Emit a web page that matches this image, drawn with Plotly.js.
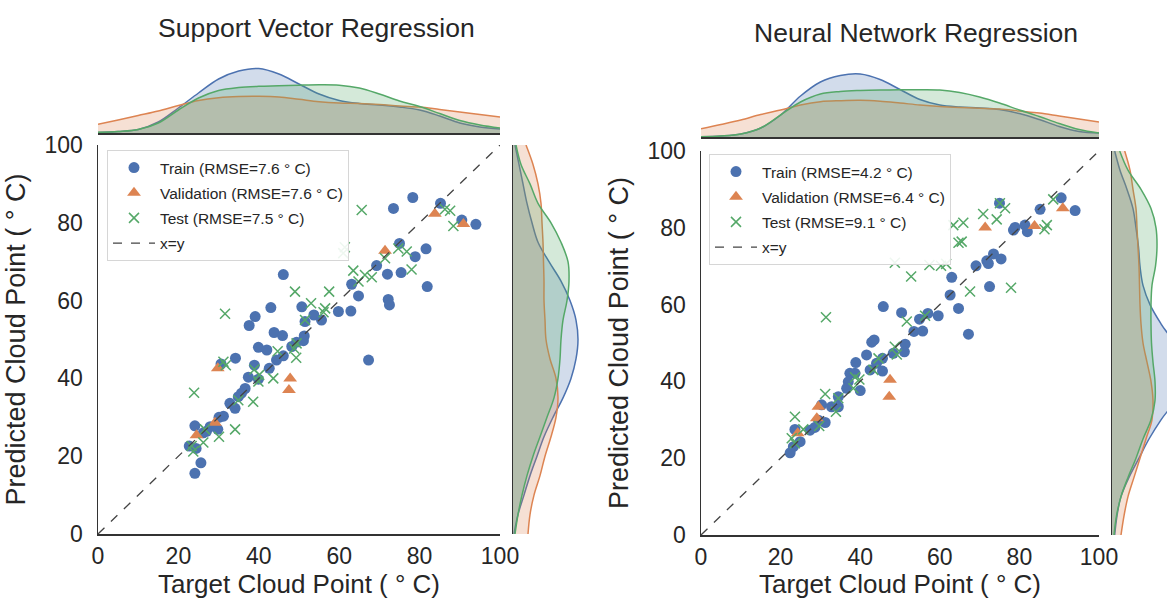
<!DOCTYPE html>
<html>
<head>
<meta charset="utf-8">
<script src="https://cdn.plot.ly/plotly-3.0.1.min.js"></script>
<style>html,body{margin:0;padding:0;background:#fff;}#chart{width:1167px;height:599px;}</style>
</head>
<body>
<div id="chart"></div>
<script>
// ---------------- DATA ----------------
// Support Vector Regression: target (x) vs predicted (y)
const svrTrainX = [78.3,73.5,85.2,90.5,94.0,75.0,81.6,78.9,69.3,72.0,75.4,81.9,63.1,64.8,46.1,72.2,72.5,50.7,43.0,39.1,37.6,59.8,62.9,53.7,55.6,51.5,43.8,45.9,51.3,51.1,48.2,49.4,39.9,42.0,46.1,44.4,34.2,30.6,38.9,42.6,67.3,37.4,39.9,36.6,35.7,34.9,32.8,34.1,31.2,30.1,24.1,27.9,29.8,26.2,22.7,24.4,25.6,24.1,27.0];
const svrTrainY = [86.5,83.7,85.0,80.7,79.6,74.7,73.3,71.3,69.0,66.8,67.2,63.6,64.2,61.2,66.7,60.3,58.9,58.4,58.2,55.9,53.6,57.2,57.3,56.3,55.0,54.6,51.8,51.0,50.9,49.7,48.2,49.3,48.0,47.3,45.8,44.7,45.2,43.7,43.4,42.6,44.7,40.3,39.8,37.4,36.2,35.3,33.6,32.3,30.3,30.0,27.8,27.6,26.9,26.0,22.6,22.0,18.3,15.6,26.4];
const svrValX = [83.8,90.9,71.4,29.8,47.8,47.5,29.1,24.5];
const svrValY = [82.3,79.7,72.8,42.6,40.0,37.0,28.6,25.4];
const svrTestX = [65.6,86.3,87.6,88.4,61.4,61.0,74.7,76.8,71.4,63.5,78.0,66.4,68.1,64.8,49.0,57.5,53.0,56.5,56.1,51.5,31.6,44.7,49.4,48.8,49.3,31.2,31.8,38.9,40.1,39.9,43.6,34.9,38.6,23.9,34.1,30.1,26.6,26.2,23.3,23.7];
const svrTestY = [83.3,83.5,83.1,79.2,73.7,72.2,73.4,72.6,70.9,67.7,68.0,66.6,66.0,64.9,62.3,62.3,59.3,58.0,57.0,55.0,56.6,47.0,49.0,47.7,45.3,44.3,43.4,42.3,40.9,39.2,40.0,34.4,34.0,36.3,26.9,25.0,26.9,23.5,22.6,21.2];

// Neural Network Regression: target (x) vs predicted (y)
const nnTrainX = [90.5,94.0,85.2,75.0,78.5,78.9,81.4,82.0,73.5,71.8,72.2,75.4,69.1,63.0,62.6,72.5,64.7,67.2,59.6,57.0,54.9,50.4,45.8,53.5,55.7,51.3,51.1,48.3,43.5,42.9,41.6,45.6,44.1,42.5,45.6,38.9,37.4,38.7,37.0,40.0,36.6,34.5,32.8,34.5,30.3,31.2,29.5,28.6,23.6,24.9,23.2,22.4,27.4];
const nnTrainY = [87.8,84.5,84.8,86.4,79.4,80.1,80.7,79.0,73.2,71.4,70.7,71.9,70.1,67.1,62.5,64.7,59.0,52.3,57.1,57.7,56.2,57.9,59.5,53.0,53.1,49.7,47.7,47.3,50.8,50.2,46.9,46.0,44.7,43.0,42.7,44.9,42.1,42.1,39.9,37.6,38.2,36.0,33.4,33.4,33.9,29.3,29.9,28.0,27.5,24.3,23.0,21.4,27.3];
const nnValX = [90.9,83.8,71.4,47.5,47.3,29.5,29.1,24.3];
const nnValY = [85.1,80.5,80.1,40.4,36.0,33.4,30.4,26.5];
const nnTestX = [88.5,75.1,76.4,70.9,74.3,65.9,63.4,65.5,64.7,86.9,86.3,48.7,57.4,60.3,61.6,52.8,67.6,77.9,31.4,51.7,56.3,48.7,49.2,44.6,43.3,39.8,38.7,38.3,34.5,31.2,33.9,29.7,23.6,25.7,22.8,23.6];
const nnTestY = [87.4,86.4,85.1,83.6,82.2,81.3,80.7,76.4,76.1,80.7,79.6,70.9,70.3,70.1,70.6,67.3,63.4,64.4,56.7,55.6,57.1,49.0,47.0,46.0,43.0,40.5,41.1,38.2,35.6,36.7,32.1,28.4,30.8,27.5,25.2,23.9];

const diagX = [0, 100];
const diagY = [0, 100];

// Marginal KDE curves (relative density), evaluated on grid 0..100
const kdeGrid = [0,5,10,15,20,25,30,35,40,45,50,55,60,65,70,75,80,85,90,95,100];
// SVR – target distribution (top)
const svrTopTrain = [0.5,1.5,3.5,11,25,40,54,62,64.5,59,49,39,32.5,29.5,28,26,23,17,10,6,4];
const svrTopVal   = [8.7,13,17.5,22,27.5,32.5,35.3,36.5,36.7,36,33.7,31.3,30,29.5,28.5,27,26,23.5,21,18.5,16];
const svrTopTest  = [0.7,1.5,3.5,10,23,35,42.5,45.5,46.7,47.2,47.8,48.2,47.8,45,39,32,26.5,19.5,12.5,8,5];
// SVR – predicted distribution (right)
const svrRightTrain = [1,5,11,17,24,31,40,50,58,63,65,63,57,48,36,25,19,14,10,6,2];
const svrRightVal   = [15,17,21,27,32,38,43,45,43,37,33,32,31,31,30.5,30,29,28,25,20,13];
const svrRightTest  = [2,5,9,14,20,27,34,41,45,47,48,50,54,56,55,48,38,25,17,8,3];
// NN – target distribution (top)
const nnTopTrain = [0.3,1,3,9,22,41,55,61.5,63,57.5,47.5,37.5,32,30,29,27.5,23.5,17.5,10.5,5.5,4];
const nnTopVal   = [8.3,12.5,17,22.5,27,32,35.3,36.3,36.7,35.8,34,32,30.5,29.5,28.8,28,26,24,21,18,15];
const nnTopTest  = [0.3,1,3,9,22,35,43,45.5,46.5,47,47.2,47.3,47,44.5,40,34,27,20.5,13.5,7.5,4];
// NN – predicted distribution (right)
const nnRightTrain = [2.7,5,9,17,27,37,49,63,70,69,62,49,38,31,28,26.5,24,21,15,8,2.7];
const nnRightVal   = [9,12,16,22,28,34,40,41,39,35,31,29,28,27.5,27,26,25,24,21,18,12.7];
const nnRightTest  = [2,4.5,9,16,24,31,39,43,43,41,39.5,39,39,40,43.5,45,44,39,29,16,7.7];

const legendSVR = ['Train (RMSE=7.6 ° C)', 'Validation (RMSE=7.6 ° C)', 'Test (RMSE=7.5 ° C)', 'x=y'];
const legendNN  = ['Train (RMSE=4.2 ° C)', 'Validation (RMSE=6.4 ° C)', 'Test (RMSE=9.1 ° C)', 'x=y'];

// ---------------- STYLE ----------------
const W = 1167, H = 599;
const C_BLUE = '#4C72B0', C_ORANGE = '#DD8452', C_GREEN = '#55A868';
const FILL = {[C_BLUE]: 'rgba(76,114,176,0.25)', [C_ORANGE]: 'rgba(221,132,82,0.25)', [C_GREEN]: 'rgba(85,168,104,0.25)'};
const FONT = 'Liberation Sans, Arial, Helvetica, sans-serif';
const TXT = '#262626';
const px = v => v / W;
const py = v => 1 - v / H;

function scatterSet(xa, ya, lg, names, tr, trY, va, vaY, te, teY) {
  return [
    {type:'scatter', mode:'markers', x:tr, y:trY, xaxis:xa, yaxis:ya, legend:lg, legendgroup:lg+'a', name:names[0],
     marker:{symbol:'circle', size:11, color:C_BLUE}},
    {type:'scatter', mode:'markers', x:va, y:vaY, xaxis:xa, yaxis:ya, legend:lg, legendgroup:lg+'b', name:names[1],
     marker:{symbol:'triangle-up', size:12, color:C_ORANGE}},
    {type:'scatter', mode:'markers', x:te, y:teY, xaxis:xa, yaxis:ya, legend:lg, legendgroup:lg+'c', name:names[2],
     marker:{symbol:'x-thin-open', size:10, color:C_GREEN, line:{color:C_GREEN, width:1.5}}},
    {type:'scatter', mode:'lines', x:diagX, y:diagY, xaxis:xa, yaxis:ya, legend:lg, legendgroup:lg+'d', name:names[3],
     line:{color:'#444', width:1.3, dash:'dash'}}
  ];
}
function kdeTop(xa, ya, vals, color) {
  return {type:'scatter', mode:'lines', x:kdeGrid, y:vals, xaxis:xa, yaxis:ya, showlegend:false,
    fill:'tozeroy', fillcolor:FILL[color], line:{color:color, width:1.5, shape:'spline'}, hoverinfo:'skip'};
}
function kdeRight(xa, ya, vals, color) {
  return {type:'scatter', mode:'lines', x:vals, y:kdeGrid, xaxis:xa, yaxis:ya, showlegend:false,
    fill:'tozerox', fillcolor:FILL[color], line:{color:color, width:1.5, shape:'spline'}, hoverinfo:'skip'};
}

const data = [
  kdeTop('x2','y2', svrTopTrain, C_BLUE), kdeTop('x2','y2', svrTopVal, C_ORANGE), kdeTop('x2','y2', svrTopTest, C_GREEN),
  kdeRight('x3','y3', svrRightTrain, C_BLUE), kdeRight('x3','y3', svrRightVal, C_ORANGE), kdeRight('x3','y3', svrRightTest, C_GREEN),
  kdeTop('x5','y5', nnTopTrain, C_BLUE), kdeTop('x5','y5', nnTopVal, C_ORANGE), kdeTop('x5','y5', nnTopTest, C_GREEN),
  kdeRight('x6','y6', nnRightTrain, C_BLUE), kdeRight('x6','y6', nnRightVal, C_ORANGE), kdeRight('x6','y6', nnRightTest, C_GREEN),
  ...scatterSet('x','y','legend', legendSVR, svrTrainX, svrTrainY, svrValX, svrValY, svrTestX, svrTestY),
  ...scatterSet('x4','y4','legend2', legendNN, nnTrainX, nnTrainY, nnValX, nnValY, nnTestX, nnTestY)
];

const tickVals = [0,20,40,60,80,100];
function mainX(domain, anchor) {
  return {domain, anchor, range:[0,100], tickvals:tickVals, showgrid:false, zeroline:false, ticks:'',
    showline:true, linecolor:'#333', linewidth:1.5, tickfont:{size:23, color:TXT, family:FONT},
    ticklabelstandoff:1, automargin:false,
    title:{text:'Target Cloud Point ( ° C)', font:{size:26, color:TXT, family:FONT}, standoff:11}};
}
function mainY(domain, anchor) {
  return {domain, anchor, range:[0,100], tickvals:tickVals, showgrid:false, zeroline:false, ticks:'',
    showline:true, linecolor:'#333', linewidth:1.5, tickfont:{size:23, color:TXT, family:FONT},
    ticklabelstandoff:9, automargin:false,
    title:{text:'Predicted Cloud Point ( ° C)', font:{size:27, color:TXT, family:FONT}, standoff:11}};
}
const hidden = (domain, anchor, range) => ({domain, anchor, range, visible:false, fixedrange:true});
const lineAx = (domain, anchor, range) => ({domain, anchor, range, showline:true, linecolor:'#333', linewidth:1.5,
  showgrid:false, zeroline:false, showticklabels:false, ticks:''});

const legendCommon = {bgcolor:'rgba(255,255,255,0.9)', bordercolor:'#d6d6d6', borderwidth:1,
  font:{size:15.5, color:TXT, family:FONT}, xanchor:'left', yanchor:'top', itemwidth:42,
  traceorder:'grouped', tracegroupgap:2};

const layout = {
  width:W, height:H, margin:{l:0, r:0, t:0, b:0}, paper_bgcolor:'#fff', plot_bgcolor:'rgba(0,0,0,0)',
  font:{family:FONT, color:TXT},
  // SVR panel
  xaxis: mainX([px(98), px(500)], 'y'),
  yaxis: mainY([py(534), py(145)], 'x'),
  xaxis2: lineAx([px(98), px(500)], 'y2', [0,100]),
  yaxis2: hidden([py(133), py(58)], 'x2', [0,75]),
  xaxis3: hidden([px(513), px(593)], 'y3', [0,80]),
  yaxis3: lineAx([py(534), py(145)], 'x3', [0,100]),
  // NN panel
  xaxis4: mainX([px(701), px(1099)], 'y4'),
  yaxis4: mainY([py(535), py(151)], 'x4'),
  xaxis5: lineAx([px(701), px(1099)], 'y5', [0,100]),
  yaxis5: hidden([py(137), py(62)], 'x5', [0,75]),
  xaxis6: hidden([px(1112), 1], 'y6', [0,55]),
  yaxis6: lineAx([py(535), py(151)], 'x6', [0,100]),
  legend: Object.assign({x:px(107), y:py(150)}, legendCommon),
  legend2: Object.assign({x:px(709), y:py(154)}, legendCommon),
  annotations: [
    {text:'Support Vector Regression', xref:'paper', yref:'paper', x:px(316), y:py(28), xanchor:'center', yanchor:'middle',
     showarrow:false, font:{size:26.5, color:TXT, family:FONT}},
    {text:'Neural Network Regression', xref:'paper', yref:'paper', x:px(916), y:py(33), xanchor:'center', yanchor:'middle',
     showarrow:false, font:{size:26.5, color:TXT, family:FONT}}
  ],
  showlegend:true
};

Plotly.newPlot('chart', data, layout, {displayModeBar:false, staticPlot:true});
</script>
</body>
</html>
